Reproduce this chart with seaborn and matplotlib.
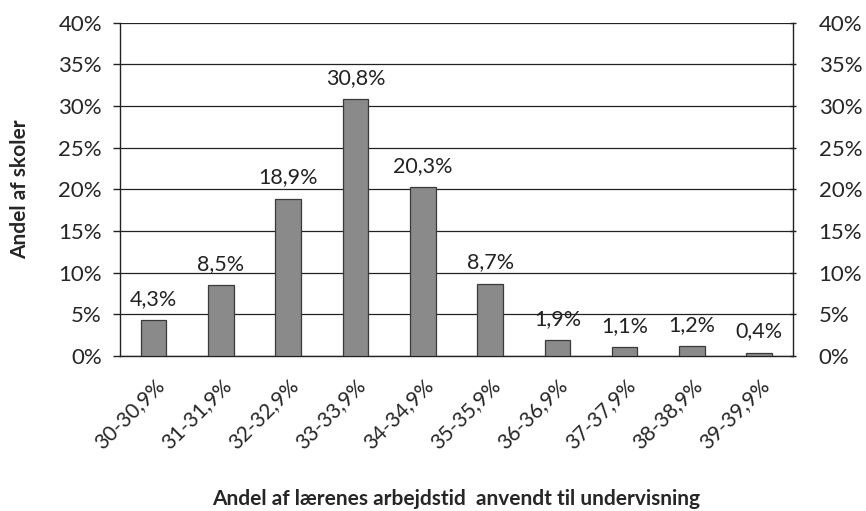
import matplotlib
matplotlib.use('Agg')
import matplotlib.pyplot as plt
import matplotlib.ticker as mticker
import seaborn as sns
import pandas as pd

# Data
categories = ['30-30,9%', '31-31,9%', '32-32,9%', '33-33,9%', '34-34,9%',
              '35-35,9%', '36-36,9%', '37-37,9%', '38-38,9%', '39-39,9%']
shares = [4.3, 8.5, 18.9, 30.8, 20.3, 8.7, 1.9, 1.1, 1.2, 0.4]
labels = ['4,3%', '8,5%', '18,9%', '30,8%', '20,3%', '8,7%', '1,9%', '1,1%', '1,2%', '0,4%']

df = pd.DataFrame({'interval': categories, 'share': shares})

sns.set_style('white')
plt.rcParams['font.family'] = ['Lato', 'DejaVu Sans']

fig = plt.figure(figsize=(8.66, 5.11), dpi=100)
ax = fig.add_axes([0.1386, 0.3033, 0.777, 0.652])

sns.barplot(data=df, x='interval', y='share', color='#8a8a8a', width=0.38,
            edgecolor='#3a3a3a', linewidth=0.9, ax=ax, zorder=3)

for i, (v, lab) in enumerate(zip(shares, labels)):
    ax.annotate(lab, (i, v), xytext=(0, 8), textcoords='offset points',
                ha='center', va='bottom', fontsize=15.5, color='#222222')

ax.set_ylim(0, 40)
ax.set_xlim(-0.5, len(categories) - 0.5)
ax.yaxis.set_major_locator(mticker.MultipleLocator(5))
ax.yaxis.set_major_formatter(mticker.FuncFormatter(lambda v, p: f'{v:.0f}%'))
ax.grid(axis='y', color='#222222', linewidth=0.9, zorder=0)
ax.set_axisbelow(True)

# ticks between categories
ax.set_xticks([i - 0.5 for i in range(len(categories) + 1)], minor=True)
ax.tick_params(axis='x', which='minor', length=6, width=1, color='#222222', direction='out')
ax.set_xticks(range(len(categories)))
ax.set_xticklabels(categories, rotation=45, ha='right', rotation_mode='anchor', fontsize=15)
ax.tick_params(axis='x', which='major', length=0, pad=14)
ax.tick_params(axis='y', which='major', length=5, width=1, color='#222222',
               direction='out', labelsize=16, pad=8)

ax.spines['top'].set_visible(False)
for side in ['left', 'right', 'bottom']:
    ax.spines[side].set_color('#222222')
    ax.spines[side].set_linewidth(1.0)

ax2 = ax.twinx()
ax2.set_ylim(0, 40)
ax2.yaxis.set_major_locator(mticker.MultipleLocator(5))
ax2.yaxis.set_major_formatter(mticker.FuncFormatter(lambda v, p: f'{v:.0f}%'))
ax2.tick_params(axis='y', length=5, width=1, color='#222222', direction='inout',
                labelsize=16, pad=16)
for side in ['top', 'left', 'bottom', 'right']:
    ax2.spines[side].set_visible(False)

ax.set_ylabel('Andel af skoler', fontsize=15, fontweight='bold', labelpad=20)
ax.set_xlabel('Andel af lærenes arbejdstid  anvendt til undervisning', fontsize=15,
              fontweight='bold', labelpad=26)

fig.savefig('out.png', dpi=100)
